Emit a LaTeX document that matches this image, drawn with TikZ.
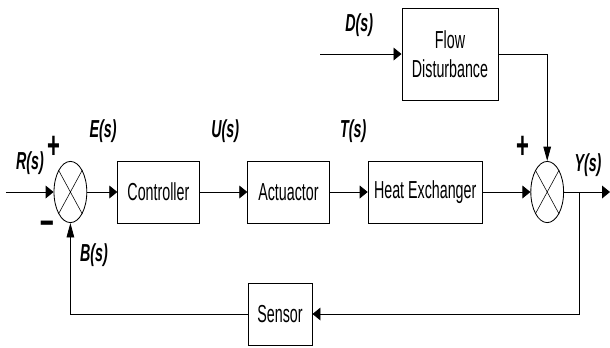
\documentclass[tikz,border=0pt]{standalone}
\usepackage{fontspec}
\newfontfamily\diagfont[FakeStretch=0.58]{Liberation Sans}
\usetikzlibrary{arrows.meta,shapes.geometric}

\begin{document}
\begin{tikzpicture}[
    block/.style={draw, line width=0.7pt, minimum height=1.55cm, inner sep=2pt, align=center, font=\diagfont\fontsize{17.5}{21}\selectfont},
    sum/.style={draw, ellipse, line width=0.6pt, minimum width=0.82cm, minimum height=1.53cm, inner sep=0pt},
    sig/.style={font=\diagfont\fontsize{17.5}{21}\selectfont\bfseries\itshape, inner sep=0pt},
    sign/.style={font=\diagfont\fontsize{27}{27}\selectfont\bfseries, inner sep=0pt},
    harrow/.style={-{Triangle[length=2mm, width=3.2mm]}, line width=0.6pt},
    varrow/.style={-{Triangle[length=3.6mm, width=1.9mm]}, line width=0.6pt}
]
    \useasboundingbox (0,0) rectangle (15.25,-8.675);

    % Summing junctions
    \node[sum] (s1) at (1.76,-4.8) {};
    \node[sum] (s2) at (13.68,-4.8) {};
    \draw[line width=0.4pt] (s1.north west) -- (s1.south east) (s1.north east) -- (s1.south west);
    \draw[line width=0.4pt] (s2.north west) -- (s2.south east) (s2.north east) -- (s2.south west);

    % Forward path
    \node[block, minimum width=2.03cm] (ctrl) at (3.96,-4.8) {Controller};
    \node[block, minimum width=2.03cm] (act) at (7.21,-4.8) {Actuactor};
    \node[block, minimum width=2.85cm] (heat) at (10.63,-4.8) {Heat Exchanger};

    % Disturbance and sensor
    \node[block, minimum width=2.4cm, minimum height=2.3cm] (flow) at (11.25,-1.35) {Flow\\Disturbance};
    \node[block, minimum width=1.6cm] (sens) at (7.0,-7.85) {Sensor};

    % Free ends
    \coordinate (in) at (0.15,-4.8);
    \coordinate (out) at (15.25,-4.8);
    \coordinate (tap) at (14.48,-4.8);
    \coordinate (din) at (8.0,-1.35);

    \draw[harrow] (in) -- (s1);
    \draw[harrow] (s1) -- (ctrl);
    \draw[harrow] (ctrl) -- (act);
    \draw[harrow] (act) -- (heat);
    \draw[harrow] (heat) -- (s2);
    \draw[harrow] (s2) -- (out);
    \draw[harrow] (din) -- (flow);
    \draw[varrow] (flow) -| (s2);
    \draw[harrow] (tap) |- (sens);
    \draw[varrow] (sens) -| (s1);

    % Signals
    \node[sig] (rs) at (0.75,-4.08) {R(s)};
    \node[sig] (es) at (2.58,-3.28) {E(s)};
    \node[sig] (us) at (5.63,-3.28) {U(s)};
    \node[sig] (ts) at (8.83,-3.28) {T(s)};
    \node[sig] (ds) at (8.98,-0.63) {D(s)};
    \node[sig] (ys) at (14.7,-4.13) {Y(s)};
    \node[sig] (bs) at (2.35,-6.38) {B(s)};

    % Signs
    \node[sign] (p1) at (1.35,-3.68) {+};
    \node[sign] (p2) at (13.08,-3.68) {+};
    \node[sign, font=\diagfont\fontsize{30}{30}\selectfont\bfseries] (m1) at (1.18,-5.7) {\textendash};

\end{tikzpicture}
\end{document}
